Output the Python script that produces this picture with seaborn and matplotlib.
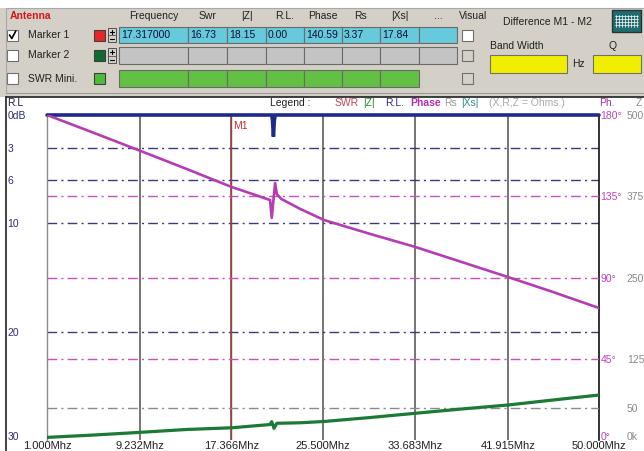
import matplotlib
matplotlib.use('Agg')
import matplotlib.pyplot as plt
from matplotlib.patches import Rectangle
import seaborn as sns

# --- values ---
freq_ticks = [1.000, 9.232, 17.366, 25.500, 33.683, 41.915, 50.000]
freq_labels = ['1.000Mhz', '9.232Mhz', '17.366Mhz', '25.500Mhz',
               '33.683Mhz', '41.915Mhz', '50.000Mhz']

rl_ticks = [0, 3, 6, 10, 20, 30]
rl_labels = ['0dB', '3', '6', '10', '20', '30']
ph_ticks = [0, 45, 90, 135, 180]
ph_labels = ['0°', '45°', '90°', '135°', '180°']
z_ticks = [0, 50, 125, 250, 375, 500]
z_labels = ['0k', '50', '125', '250', '375', '500']

# phase (deg) vs frequency (MHz)
phase_freq = [1.0, 5.2, 9.3, 13.4, 17.4, 19.5, 20.8, 20.95, 21.1, 21.25, 21.4,
              21.8, 23.5, 25.6, 29.7, 33.7, 37.8, 41.9, 45.9, 50.0]
phase_deg = [180.0, 170.0, 160.1, 150.1, 140.1, 135.7, 132.9, 123.0, 132.9, 142.3, 136.2,
             133.5, 127.9, 121.8, 114.1, 106.9, 98.6, 90.3, 82.0, 73.1]

# |Z| (ohms) vs frequency
z_freq = [1.0, 5.2, 9.3, 13.4, 17.4, 20.8, 20.95, 21.15, 21.4, 23.5, 25.6,
          29.7, 33.7, 37.8, 41.9, 45.9, 50.0]
z_ohm = [4.0, 7.7, 11.8, 16.2, 18.8, 23.8, 28.2, 18.0, 25.7, 26.5, 28.5,
         34.6, 41.1, 47.7, 53.8, 61.5, 69.2]

# return loss (dB) vs frequency
rl_freq = [1.0, 20.95, 21.02, 21.1, 21.18, 21.25, 50.0]
rl_db = [0.0, 0.0, 0.5, 2.0, 0.5, 0.0, 0.0]

rl_grid = [3, 6, 10, 20]
ph_grid = [45, 90, 135]
z_grid = [50]

marker_freq = 17.317
headers = ['Frequency', 'Swr', '|Z|', 'R.L.', 'Phase', 'Rs', '|Xs|', '...']
marker1_values = ['17.317000', '16.73', '18.15', '0.00', '140.59', '3.37', '17.84', '']
row_names = ['Marker 1', 'Marker 2', 'SWR Mini.']

sns.set_style('white')
plt.rcParams['font.family'] = ['Liberation Sans', 'DejaVu Sans']
plt.rcParams['font.size'] = 7.5

W, H = 644, 451
fig = plt.figure(figsize=(W / 100, H / 100), dpi=100)

# background "window" drawn in pixel coordinates
ui = fig.add_axes([0, 0, 1, 1], zorder=0)
ui.set_xlim(0, W)
ui.set_ylim(H, 0)
ui.axis('off')


def box(x0, y0, x1, y1, fc, ec='#7a7a7a', lw=0.8, z=1):
    ui.add_patch(Rectangle((x0, y0), x1 - x0, y1 - y0, facecolor=fc,
                           edgecolor=ec, linewidth=lw, zorder=z))


panel = '#d4d0c8'
box(0, 8, W + 2, 97, panel, ec='none', z=0)
ui.plot([6, W], [8, 8], color='#a8a8a8', lw=0.8)
ui.plot([6, 6], [8, 93], color='#a8a8a8', lw=0.8)
ui.plot([6, W], [92.5, 92.5], color='#9a9a9a', lw=0.8)
# chart frame
box(6, 97, W + 2, H + 2, 'white', ec='none', z=0)
ui.plot([6, W], [96.5, 96.5], color='#202020', lw=1.2)
ui.plot([6, 6], [96.5, H], color='#202020', lw=1.2)

# table header
ui.text(10, 16, 'Antenna', color='#d01818', fontweight='bold', va='center', fontsize=7.5)
cell_x = [119, 188, 227, 266, 304, 342, 380, 419, 457]
for i, h in enumerate(headers):
    ui.text((cell_x[i] + cell_x[i + 1]) / 2, 16, h, ha='center', va='center', color='#202020')
ui.text(473, 16, 'Visual', ha='center', va='center', color='#202020')

rows = [(27, 43), (47, 64), (70, 87)]
swatch = ['#e8262a', '#0f6b2f', '#4cbb3c']
fills = ['#66c9dc', '#c4c4c4', '#62c044']
for r, (y0, y1) in enumerate(rows):
    yc = (y0 + y1) / 2
    box(7, yc - 5.5, 18, yc + 5.5, 'white', ec='#707070')
    ui.text(28, yc, row_names[r], va='center', color='#202020')
    box(94, yc - 5.5, 105, yc + 5.5, swatch[r], ec='#404040')
    if r < 2:
        box(108, y0 + 1, 116, y1 - 1, panel, ec='#505050', lw=0.7)
        ui.plot([108, 116], [yc, yc], color='#505050', lw=0.6)
        ui.plot([110, 114], [(y0 + yc) / 2 + 0.5] * 2, color='black', lw=0.8)
        ui.plot([112, 112], [(y0 + yc) / 2 - 1.5, (y0 + yc) / 2 + 2.5], color='black', lw=0.8)
        ui.plot([110, 114], [(yc + y1) / 2] * 2, color='black', lw=0.8)
    ncell = 8 if r < 2 else 7
    for c in range(ncell):
        box(cell_x[c], y0, cell_x[c + 1], y1, fills[r], ec='#6a6a6a')
        if r == 0 and marker1_values[c]:
            ui.text(cell_x[c] + 2, yc + 0.5, marker1_values[c], va='center', color='#101030')
    box(462, yc - 5.5, 473, yc + 5.5, 'white' if r == 0 else panel, ec='#707070')
# check mark on Marker 1
ui.plot([9.5, 11.8, 15.8], [35, 38.5, 31], color='black', lw=1.2, zorder=3)

# difference block
ui.text(503, 22, 'Difference M1 - M2', va='center', color='#202020')
box(612, 10, 641, 32, '#1d6d70', ec='#303030', lw=1)
for gx in range(616, 639, 3):
    ui.plot([gx, gx], [15, 27], color='white', lw=0.5, zorder=2)
for gy in [16, 19, 22, 25]:
    ui.plot([615, 638], [gy, gy], color='white', lw=0.5, zorder=2)
ui.text(490, 46, 'Band Width', va='center', color='#202020')
ui.text(613, 46, 'Q', ha='center', va='center', color='#202020')
box(490, 55, 567, 73, '#f2ee00', ec='#707070')
box(593, 55, 641, 73, '#f2ee00', ec='#707070')
ui.text(578, 64, 'Hz', ha='center', va='center', color='#202020')

# legend row
ui.text(7, 103, 'R.L', va='center', color='#202040')
ui.text(290, 103, 'Legend :', ha='center', va='center', color='#202020')
legend_items = [('SWR', '#c04858', 335), ('|Z|', '#2a8a3a', 363), ('R.L.', '#2a2a80', 385),
                ('Phase', '#b030b0', 410), ('Rs', '#9a9a9a', 444), ('|Xs|', '#2f8a8a', 461),
                ('(X,R,Z = Ohms.)', '#a8a8a8', 489)]
for txt, col, x in legend_items:
    ui.text(x, 103, txt, va='center', color=col,
            fontweight='bold' if txt == 'Phase' else 'normal')
ui.text(599, 103, 'Ph.', va='center', color='#a030a0')
ui.text(636, 103, 'Z', va='center', color='#909090')

# --- plot area ---
L, R, T, B = 47, 599, 115, 440
ax = fig.add_axes([L / W, 1 - B / H, (R - L) / W, (B - T) / H], zorder=2)
ax.patch.set_visible(False)
ax_ph = ax.twinx()
ax_z = ax.twinx()
for a in (ax_ph, ax_z):
    a.set_zorder(3)
    a.patch.set_visible(False)
    for s in a.spines.values():
        s.set_visible(False)

dashdot = (0, (7, 3, 1.5, 3))
for f in freq_ticks[1:-1]:
    ax.axvline(f, color='#6a6a6a', lw=1.3, zorder=1)
for v in rl_grid:
    ax.axhline(v, color='#3a3a80', lw=1, ls=dashdot, zorder=1)
for v in ph_grid:
    ax_ph.axhline(v, color='#c850b8', lw=1, ls=dashdot, zorder=1)
for v in z_grid:
    ax_z.axhline(v, color='#8a8a8a', lw=1, ls=dashdot, zorder=1)

ax.axvline(marker_freq, color='#b03a3a', lw=1, zorder=1.5)
ax.annotate('M1', xy=(marker_freq, 0), xytext=(2, -4), textcoords='offset points',
            va='top', ha='left', color='#c03030', fontsize=7.5)

sns.lineplot(x=rl_freq, y=rl_db, ax=ax, color='#1e2a8c', lw=2.6, clip_on=False,
             zorder=4, solid_joinstyle='miter')
sns.lineplot(x=phase_freq, y=phase_deg, ax=ax_ph, color='#b43cb4', lw=1.9)
sns.lineplot(x=z_freq, y=z_ohm, ax=ax_z, color='#1b7a34', lw=2.3)

ax.set_xlim(1, 50)
ax.set_ylim(30, 0)
ax_ph.set_ylim(0, 180)
ax_z.set_ylim(0, 500)

ax.set_xticks(freq_ticks, freq_labels)
ax.set_yticks(rl_ticks, rl_labels)
ax.tick_params(axis='x', length=0, pad=0.5, labelsize=8, labelcolor='#202020')
ax.tick_params(axis='y', length=0, pad=28.5, labelsize=7.5, labelcolor='#2e2e78')
for lbl in ax.get_yticklabels():
    lbl.set_horizontalalignment('left')
ax_ph.set_yticks(ph_ticks, ph_labels)
ax_ph.tick_params(axis='y', length=0, pad=1, labelsize=7.5, labelcolor='#c040c0')
ax_z.set_yticks(z_ticks, z_labels)
ax_z.tick_params(axis='y', length=0, pad=20, labelsize=7.5, labelcolor='#8a8a8a')
# lowest labels sit just above the bottom edge, as on the screen
ax.get_yticklabels()[-1].set_verticalalignment('baseline')
ax_ph.get_yticklabels()[0].set_verticalalignment('baseline')
ax_z.get_yticklabels()[0].set_verticalalignment('baseline')
for a in (ax, ax_ph, ax_z):
    a.set_xlabel('')
    a.set_ylabel('')

for k in ('top', 'bottom'):
    ax.spines[k].set_visible(False)
ax.spines['left'].set_color('#8a8a8a')
ax.spines['left'].set_linewidth(1)
ax.spines['right'].set_color('#101010')
ax.spines['right'].set_linewidth(1.2)

fig.savefig('out.png', dpi=100)
